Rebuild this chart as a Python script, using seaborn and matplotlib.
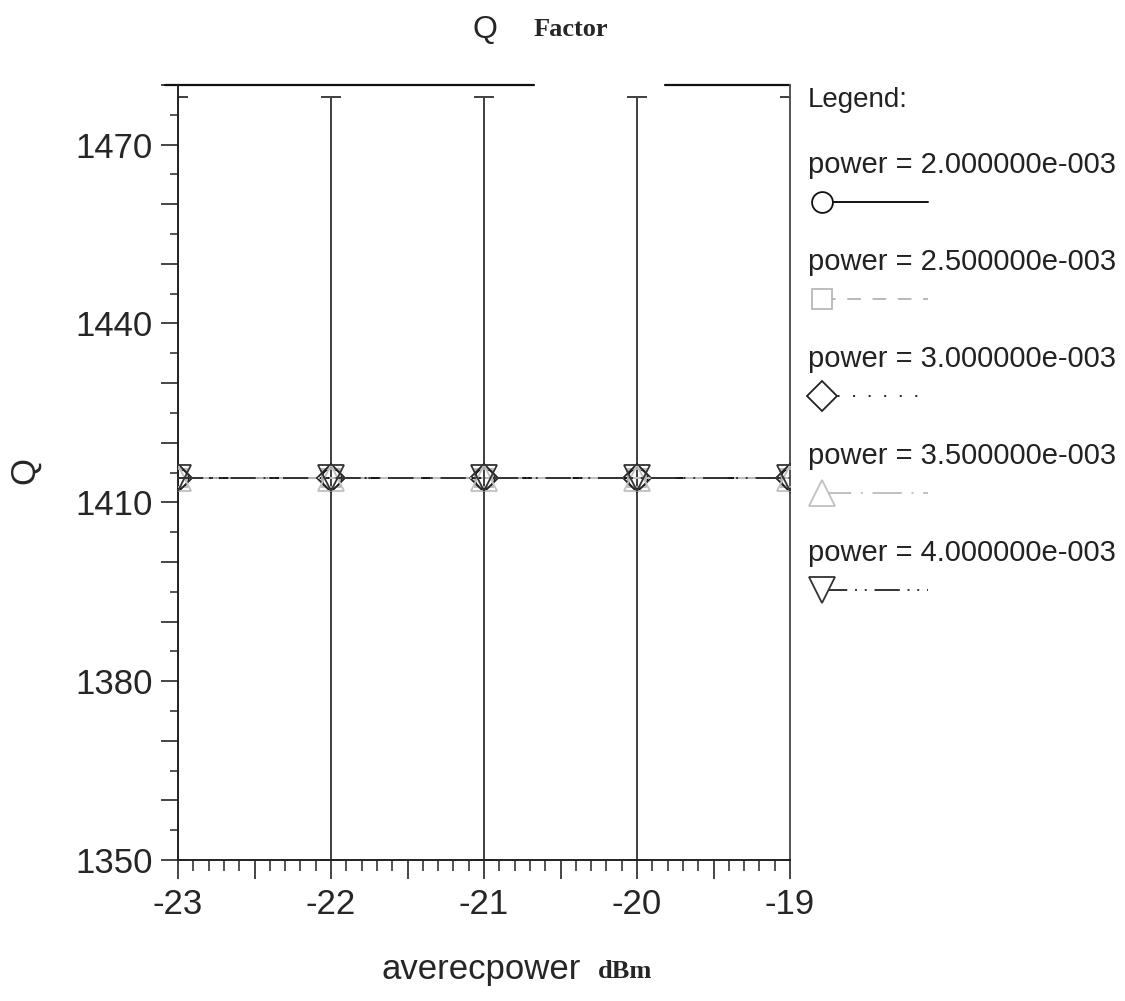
import numpy as np
import pandas as pd
import matplotlib
matplotlib.use('Agg')
import matplotlib.pyplot as plt
from matplotlib.lines import Line2D
from matplotlib.ticker import MultipleLocator, FuncFormatter
import seaborn as sns

# Data
avg_power = [-23, -22, -21, -20, -19]
q_p2_0 = [1414, 1414, 1414, 1414, 1414]
q_p2_5 = [1414, 1414, 1414, 1414, 1414]
q_p3_0 = [1414, 1414, 1414, 1414, 1414]
q_p3_5 = [1414, 1414, 1414, 1414, 1414]
q_p4_0 = [1414, 1414, 1414, 1414, 1414]
q_err = [64, 64, 64, 64, 64]
series_labels = ['power = 2.000000e-003', 'power = 2.500000e-003',
                 'power = 3.000000e-003', 'power = 3.500000e-003',
                 'power = 4.000000e-003']

sns.set_theme(style='white')
plt.rcParams['font.family'] = ['Liberation Sans', 'DejaVu Sans']

fig = plt.figure(figsize=(11.25, 10.01), dpi=100)
ax = fig.add_axes([178/1125, 1 - 860/1001, (790-178)/1125, (860-85)/1001])

styles = [
    dict(color='#111111', linestyle='-', marker='o'),
    dict(color='#b8b8b8', linestyle=(0, (7, 6)), marker='s'),
    dict(color='#222222', linestyle=(0, (1, 7)), marker='D'),
    dict(color='#c0c0c0', linestyle=(0, (15, 5, 1, 5)), marker='^'),
    dict(color='#333333', linestyle=(0, (13, 4, 1, 4, 1, 4)), marker='v'),
]
msizes = [14, 13, 14, 19, 19]
leg_msizes = [15, 14, 15, 19, 19]
all_q = [q_p2_0, q_p2_5, q_p3_0, q_p3_5, q_p4_0]

for q, st, ms in zip(all_q, styles, msizes):
    ax.errorbar(avg_power, q, yerr=q_err, fmt='none', ecolor='#444444',
                elinewidth=1.3, capsize=7, capthick=1.3, zorder=1)
    sns.lineplot(x=avg_power, y=q, ax=ax, color=st['color'],
                 linestyle=st['linestyle'], marker=st['marker'],
                 markersize=ms, markerfacecolor='none',
                 markeredgecolor=st['color'], markeredgewidth=1.3,
                 linewidth=1.4, errorbar=None, zorder=3)

ax.set_xlim(-23, -19)
ax.set_ylim(1350, 1480)
ax.xaxis.set_major_locator(MultipleLocator(0.5))
ax.xaxis.set_minor_locator(MultipleLocator(0.1))
ax.yaxis.set_major_locator(MultipleLocator(10))
ax.yaxis.set_minor_locator(MultipleLocator(5))
ax.xaxis.set_major_formatter(FuncFormatter(
    lambda v, p: f'{int(round(v))}' if abs(v - round(v)) < 1e-6 else ''))
ax.yaxis.set_major_formatter(FuncFormatter(
    lambda v, p: f'{int(round(v))}' if int(round(v)) % 30 == 0 else ''))
ax.tick_params(axis='x', which='major', direction='out', length=14, width=1.2,
               labelsize=25, pad=6, bottom=True, top=False)
ax.tick_params(axis='x', which='minor', direction='out', length=8, width=1.1,
               bottom=True, top=False)
ax.tick_params(axis='y', which='major', direction='out', length=12, width=1.2,
               labelsize=25, pad=6, left=True, right=False)
ax.tick_params(axis='y', which='minor', direction='out', length=6, width=1.1,
               left=True, right=False)
ax.set_xlabel('')
ax.set_ylabel('')

for s in ['left', 'bottom', 'right']:
    ax.spines[s].set_color('#222222')
    ax.spines[s].set_linewidth(1.4)
ax.spines['right'].set_color('#555555')
ax.spines['top'].set_visible(False)
# broken top border as in the original
ax.plot([-0.021, 0.582], [1, 1], transform=ax.transAxes, color='#111111',
        lw=1.6, clip_on=False)
ax.plot([0.796, 1.0], [1, 1], transform=ax.transAxes, color='#111111',
        lw=1.6, clip_on=False)

# titles and axis labels
fig.text(485/1125, 1 - 30/1001, 'Q', ha='center', va='center', fontsize=23)
fig.text(534/1125, 1 - 30/1001, 'Factor', ha='left', va='center', fontsize=19,
         family='Liberation Serif', weight='bold')
fig.text(481/1125, 1 - 970/1001, 'averecpower', ha='center', va='center',
         fontsize=25)
fig.text(598/1125, 1 - 972/1001, 'dBm', ha='left', va='center', fontsize=19,
         family='Liberation Serif', weight='bold')
fig.text(25/1125, 1 - 470/1001, 'Q', ha='center', va='center', fontsize=25,
         rotation=90)

# legend drawn beside the axes
fig.text(808/1125, 1 - 100/1001, 'Legend:', ha='left', va='center',
         fontsize=20, color='#222222')
label_y = [165, 262, 359, 456, 553]
for lab, st, ms, ly in zip(series_labels, styles, leg_msizes, label_y):
    fig.text(808/1125, 1 - ly/1001, lab, ha='left', va='center', fontsize=21,
             color='#222222')
    hy = 1 - (ly + 37)/1001
    fig.add_artist(Line2D([822/1125, 928/1125], [hy, hy],
                          transform=fig.transFigure, color=st['color'],
                          linestyle=st['linestyle'], linewidth=1.4))
    fig.add_artist(Line2D([822/1125], [hy], transform=fig.transFigure,
                          color=st['color'], marker=st['marker'],
                          markersize=ms, markerfacecolor='white',
                          markeredgecolor=st['color'], markeredgewidth=1.3,
                          linestyle='none'))

fig.savefig('out.png', dpi=100)
